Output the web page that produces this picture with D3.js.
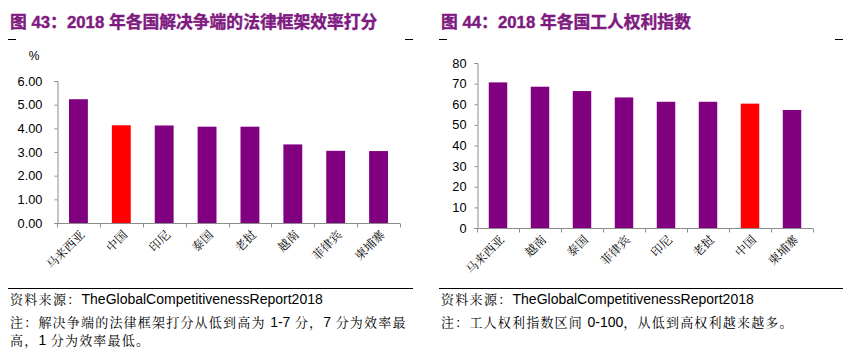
<!DOCTYPE html>
<html><head><meta charset="utf-8">
<script src="https://cdn.jsdelivr.net/npm/d3@7"></script>
<style>
body{margin:0;background:#fff;}
svg{display:block;}
</style></head>
<body>
<svg id="c" width="851" height="354"></svg>
<script>
// Chart 43 data
const cats1 = ["马来西亚","中国","印尼","泰国","老挝","越南","菲律宾","柬埔寨"];
const vals1 = [5.23, 4.13, 4.12, 4.07, 4.07, 3.32, 3.05, 3.04];
const ticks1 = [0,1,2,3,4,5,6];
// Chart 44 data
const cats2 = ["马来西亚","越南","泰国","菲律宾","印尼","老挝","中国","柬埔寨"];
const vals2 = [70.6, 68.5, 66.4, 63.3, 61.2, 61.2, 60.3, 57.2];
const ticks2 = [0,10,20,30,40,50,60,70,80];
const highlight = "中国";

const title1 = "图 43：2018 年各国解决争端的法律框架效率打分";
const title2 = "图 44：2018 年各国工人权利指数";
const source = "TheGlobalCompetitivenessReport2018";
const note1a = "解决争端的法律框架打分从低到高为 1-7 分，7 分为效率最";
const note1b = "高，1 分为效率最低。";
const note2 = "工人权利指数区间 0-100，从低到高权利越来越多。";

const svg = d3.select("#c");
const PURPLE = "#800080", RED = "#FF0000", TITLE = "#7E1A80", AXIS = "#8C8C8C";
const cjkSerif = "'Noto Serif CJK SC','Noto Sans CJK SC',serif";
const latin = "'Liberation Sans',Arial,sans-serif";

function panel(o){
  const g = svg.append("g");
  // title
  g.append("text").attr("x", o.tx).attr("y", 28)
    .attr("fill", TITLE).attr("stroke", TITLE).attr("stroke-width", 0.4)
    .attr("font-weight","bold").attr("font-size","16.8px")
    .attr("font-family", "'Liberation Sans','Noto Sans CJK SC',sans-serif")
    .text(o.title);
  // small dashes
  g.append("line").attr("x1",o.l).attr("x2",o.l+8).attr("y1",39.5).attr("y2",39.5).attr("stroke","#000");
  g.append("line").attr("x1",o.r-8).attr("x2",o.r).attr("y1",39.5).attr("y2",39.5).attr("stroke","#000");

  const x = d3.scaleBand().domain(o.cats).range([o.x0, o.x1]).paddingInner(0.56).paddingOuter(0.28);
  const y = d3.scaleLinear().domain(o.dom).range([o.y0, o.y1]);

  // bars
  g.selectAll("rect.b").data(o.vals).join("rect")
    .attr("x",(d,i)=>x(o.cats[i])).attr("width",x.bandwidth())
    .attr("y",d=>y(d)).attr("height",d=>y(o.dom[0])-y(d))
    .attr("fill",(d,i)=>o.cats[i]===highlight?RED:PURPLE);

  // y axis
  const ya = d3.axisLeft(y).tickValues(o.ticks).tickSize(3).tickPadding(o.pad).tickFormat(o.fmt);
  const yg = g.append("g").attr("transform",`translate(${o.x0+0.5},0)`).call(ya);
  yg.select(".domain").attr("stroke",AXIS);
  yg.selectAll(".tick line").attr("stroke",AXIS);
  yg.selectAll(".tick text").attr("font-family",latin).attr("font-size","12.8px").attr("fill","#000");

  // x axis
  const xg = g.append("g").attr("transform",`translate(0,${o.y0+0.5})`);
  xg.append("line").attr("x1",o.x0).attr("x2",o.x1).attr("stroke",AXIS);
  const bounds = d3.range(o.cats.length+1).map(i=>o.x0+i*(o.x1-o.x0)/o.cats.length);
  xg.selectAll("line.t").data(bounds).join("line").attr("class","t")
    .attr("x1",d=>Math.round(d)+0.5).attr("x2",d=>Math.round(d)+0.5).attr("y1",0).attr("y2",4).attr("stroke",AXIS);
  xg.selectAll("text.c").data(o.cats).join("text").attr("class","c")
    .attr("transform",d=>`translate(${x(d)+x.bandwidth()/2+4},9) rotate(-45)`)
    .attr("text-anchor","end").attr("dy","0.35em")
    .attr("font-family",cjkSerif).attr("font-size","12px").attr("fill","#000")
    .text(d=>d);

  if(o.unit){
    g.append("text").attr("x",o.unitX).attr("y",60).attr("font-family",latin)
      .attr("font-size","12px").attr("text-anchor","middle").text(o.unit);
  }

  // footer
  g.append("line").attr("x1",o.l).attr("x2",o.r).attr("y1",288.5).attr("y2",288.5).attr("stroke","#000").attr("stroke-width",1.2);
  const s = g.append("text").attr("x",o.l+2).attr("y",304).attr("font-size","14px");
  s.append("tspan").attr("font-family",cjkSerif).attr("font-size","13px").attr("letter-spacing","1.3px").text("资料来源：");
  s.append("tspan").attr("font-family",latin).text(source);
  o.notes.forEach((n,i)=>{
    const t = g.append("text").attr("x",o.l+2).attr("y",327+i*18).attr("font-size","13px")
      .attr("font-family",cjkSerif).attr("letter-spacing","1.2px");
    if(i===0) t.append("tspan").text("注：");
    n.split(/([0-9\-]+)/).forEach(part=>{
      if(!part) return;
      const sp = t.append("tspan").text(part);
      if(/^[0-9\-]+$/.test(part)) sp.attr("font-family",latin).attr("font-size","14px").attr("letter-spacing","0px");
    });
  });
}

panel({title:title1, tx:10, l:8, r:413, cats:cats1, vals:vals1, ticks:ticks1, dom:[0,6],
  x0:57, x1:400, y0:223, y1:81, pad:12, fmt:d3.format(".2f"), unit:"%", unitX:34,
  notes:[note1a, note1b]});
panel({title:title2, tx:441, l:439, r:843, cats:cats2, vals:vals2, ticks:ticks2, dom:[0,80],
  x0:477, x1:813, y0:228, y1:63, pad:8, fmt:d3.format("d"), unit:null,
  notes:[note2]});
</script>
</body></html>
